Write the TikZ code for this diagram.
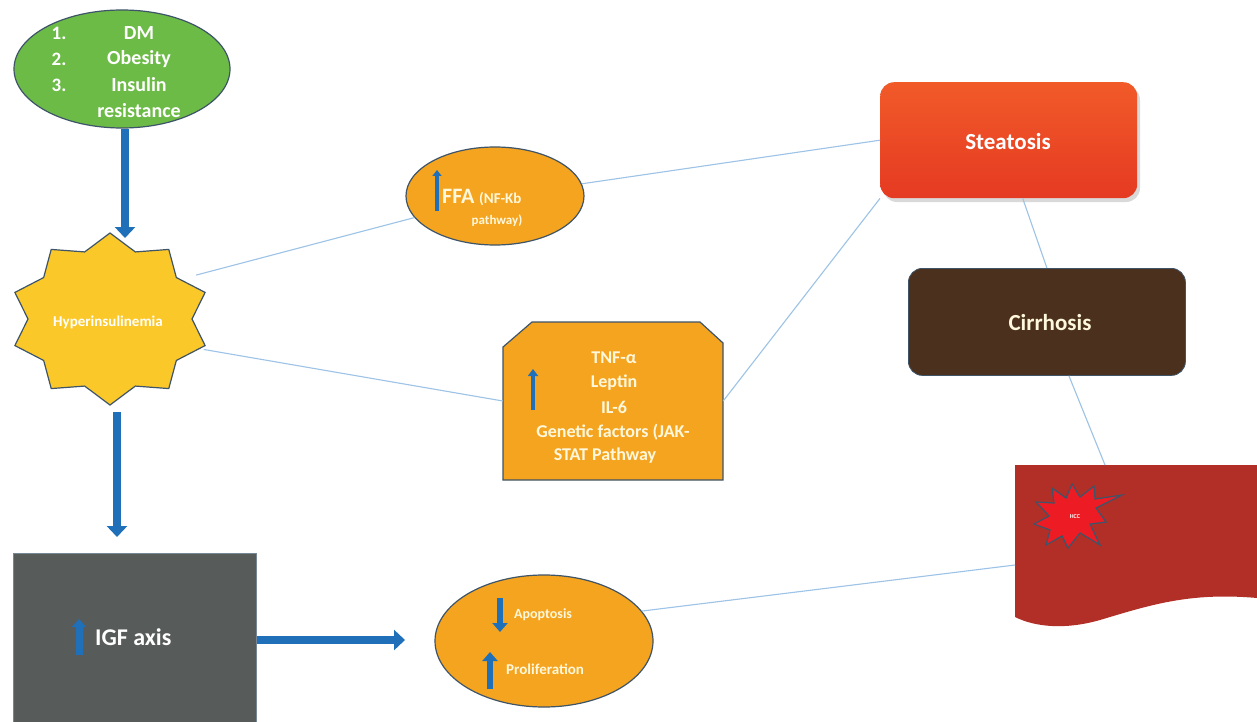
\documentclass[tikz,border=0pt]{standalone}
\usepackage{fontspec}
\setmainfont{Carlito}
\usetikzlibrary{arrows.meta,shapes.geometric,shapes.misc}
\definecolor{riskgreen}{HTML}{6DBB47}
\definecolor{edgeblue}{HTML}{3E5468}
\definecolor{staryellow}{HTML}{FBC829}
\definecolor{orangefill}{HTML}{F4A41F}
\definecolor{igfgray}{HTML}{575B59}
\definecolor{steatop}{HTML}{F15A29}
\definecolor{steabot}{HTML}{E53A22}
\definecolor{cirbrown}{HTML}{4B311D}
\definecolor{hccred}{HTML}{B22F28}
\definecolor{boomred}{HTML}{ED1C24}
\definecolor{arrowblue}{HTML}{1F70B8}
\definecolor{connblue}{HTML}{9DC3E6}
\definecolor{paletext}{HTML}{FFF8DC}
\tikzset{
  conn/.style={draw=connblue, line width=1.1pt},
  bigarrow/.style={draw=arrowblue, line width=8pt, -{Triangle[width=20pt,length=11pt]}},
  midarrow/.style={draw=arrowblue, line width=7pt, -{Triangle[width=15pt,length=9pt]}},
  smallarrow/.style={draw=arrowblue, line width=4.5pt, -{Triangle[width=10pt,length=7pt]}},
  wtext/.style={text=white, inner sep=0pt},
  ptext/.style={text=paletext, inner sep=0pt},
}
\begin{document}
\begin{tikzpicture}[x=1pt,y=-1pt]
\useasboundingbox (0,0) rectangle (1257,722);
\fill[white] (0,0) rectangle (1257,722);

% risk factors ellipse
\node[ellipse, draw=edgeblue, line width=1.2pt, fill=riskgreen, minimum width=216pt, minimum height=118pt] (risk) at (122,69) {};
\node[wtext, font=\bfseries\fontsize{19}{20}\selectfont] at (59,33) {1.};
\node[wtext, font=\bfseries\fontsize{19}{20}\selectfont] at (59,59) {2.};
\node[wtext, font=\bfseries\fontsize{19}{20}\selectfont] at (59,85) {3.};
\node[wtext, font=\bfseries\fontsize{20}{22}\selectfont] at (139,33) {DM};
\node[wtext, font=\bfseries\fontsize{20}{22}\selectfont] at (139,59) {Obesity};
\node[wtext, font=\bfseries\fontsize{20}{22}\selectfont] at (139,85) {Insulin};
\node[wtext, font=\bfseries\fontsize{20}{22}\selectfont] at (139,111) {resistance};

% hyperinsulinemia star
\filldraw[fill=staryellow, draw=edgeblue, line width=1.2pt]
  (110,233) \foreach \k in {1,...,19} {
    -- ({110+100*(1-0.18*mod(\k,2))*cos(90+18*\k)},{319-86*(1-0.18*mod(\k,2))*sin(90+18*\k)})
  } -- cycle;
\node[ellipse, minimum width=200pt, minimum height=172pt, inner sep=0pt] (hyper) at (110,319) {};
\node[wtext, font=\bfseries\fontsize{15}{17}\selectfont] at (108,322) {Hyperinsulinemia};

% IGF box
\node[rectangle, draw=edgeblue!70, fill=igfgray, line width=0.8pt, minimum width=243pt, minimum height=175pt, anchor=north west, inner sep=0pt] (igf) at (13,553) {};
\coordinate (igfarr1) at (79,655);
\coordinate (igfarr2) at (79,619);
\draw[smallarrow, line width=7pt, -{Triangle[width=14pt,length=8pt]}] (igfarr1) -- (igfarr2);
\node[wtext, font=\bfseries\fontsize{24}{26}\selectfont, anchor=west] at (95,637) {IGF axis};

% apoptosis / proliferation ellipse
\node[ellipse, draw=edgeblue, line width=1.2pt, fill=orangefill, minimum width=218pt, minimum height=132pt] (apo) at (544,641) {};
\coordinate (apoA1) at (500,598);
\coordinate (apoA2) at (500,632);
\coordinate (apoB1) at (490,689);
\coordinate (apoB2) at (490,652);
\draw[midarrow, line width=6.5pt] (apoA1) -- (apoA2);
\draw[midarrow, line width=6.5pt] (apoB1) -- (apoB2);
\node[ptext, font=\bfseries\fontsize{14}{16}\selectfont, anchor=west] at (514,615) {Apoptosis};
\node[ptext, font=\bfseries\fontsize{15}{17}\selectfont, anchor=west] at (506,669) {Proliferation};

% FFA ellipse
\node[ellipse, draw=edgeblue, line width=1.2pt, fill=orangefill, minimum width=178pt, minimum height=98pt] (ffa) at (495,196) {};
\coordinate (ffaA1) at (437,211);
\coordinate (ffaA2) at (437,170);
\draw[smallarrow, line width=4.5pt, -{Triangle[width=9pt,length=6pt]}] (ffaA1) -- (ffaA2);
\node[ptext, font=\bfseries\fontsize{22}{24}\selectfont, anchor=base west] at (442,204) {FFA};
\node[ptext, font=\bfseries\fontsize{15}{17}\selectfont, anchor=base west] at (479,203) {(NF-Kb};
\node[ptext, font=\bfseries\fontsize{13}{15}\selectfont] at (497,221) {pathway)};

% TNF box
\path[fill=orangefill, draw=edgeblue, line width=1.2pt]
  (503,347) -- (532,322) -- (700,322) -- (723,343) -- (723,480) -- (503,480) -- cycle;
\node[rectangle, minimum width=220pt, minimum height=158pt, inner sep=0pt] (tnf) at (613,401) {};
\coordinate (tnfA1) at (533,410);
\coordinate (tnfA2) at (533,369);
\draw[smallarrow] (tnfA1) -- (tnfA2);
\node[ptext, font=\bfseries\fontsize{18}{20}\selectfont] at (614,358) {TNF-α};
\node[ptext, font=\bfseries\fontsize{18}{20}\selectfont] at (614,383) {Leptin};
\node[ptext, font=\bfseries\fontsize{18}{20}\selectfont] at (614,407) {IL-6};
\node[ptext, font=\bfseries\fontsize{18}{20}\selectfont] at (613,432) {Genetic factors (JAK-};
\node[ptext, font=\bfseries\fontsize{18}{20}\selectfont] at (605,456) {STAT Pathway};

% steatosis
\fill[black!15, rounded corners=14pt] (883,86) rectangle (1140,202);
\node[rectangle, rounded corners=14pt, top color=steatop, bottom color=steabot, draw=none, minimum width=257pt, minimum height=116pt, anchor=north west, inner sep=0pt] (stea) at (880,82) {};
\node[wtext, font=\bfseries\fontsize{23}{25}\selectfont] at (1008,142) {Steatosis};

% cirrhosis
\node[rectangle, rounded corners=14pt, fill=cirbrown, draw=edgeblue, line width=0.8pt, minimum width=277pt, minimum height=107pt, anchor=north west, inner sep=0pt] (cir) at (908,268) {};
\node[text=paletext, inner sep=0pt, font=\bfseries\fontsize{23}{25}\selectfont] at (1050,323) {Cirrhosis};

% HCC liver shape
\path[fill=hccred]
  (1015,465) -- (1257,465) -- (1257,598)
  .. controls (1190,592) and (1150,605) .. (1100,620)
  .. controls (1065,630) and (1035,627) .. (1015,617) -- cycle;
\coordinate (hcctop) at (1105,465);
\coordinate (hccleft) at (1015,565);
\filldraw[fill=boomred, draw=edgeblue, line width=1.2pt]
  (1122,495) -- (1096,508) -- (1106,522) -- (1090,524) -- (1100,545) -- (1080,533)
  -- (1068,548) -- (1062,536) -- (1046,545) -- (1050,530) -- (1034,524) -- (1049,516)
  -- (1036,502) -- (1054,503) -- (1052,488) -- (1066,498) -- (1072,484) -- (1080,497)
  -- (1094,486) -- (1095,499) -- cycle;
\node[wtext, font=\bfseries\fontsize{6}{7}\selectfont] (hcc) at (1075,517) {HCC};

% connectors
\draw[conn] (hyper.27) -- (ffa.195);
\draw[conn] (ffa.8) -- (stea.west);
\draw[conn] (hyper.-18) -- (tnf.west);
\draw[conn] (tnf.east) -- (stea.south west);
\draw[conn] (stea.south) ++(14,0) coordinate (steaS) (steaS) -- (cir.north);
\draw[conn] (cir.south) ++(22,0) coordinate (cirS) (cirS) -- (hcctop);
\draw[conn] (apo.17) -- (hccleft);

% blue arrows
\draw[bigarrow] (risk.south) ++(3,0) coordinate (riskS) (riskS) -- (125,238);
\draw[bigarrow] (117,412) -- (117,537);
\draw[bigarrow] (igf.east |- 0,640) -- (405,640);
\end{tikzpicture}
\end{document}
